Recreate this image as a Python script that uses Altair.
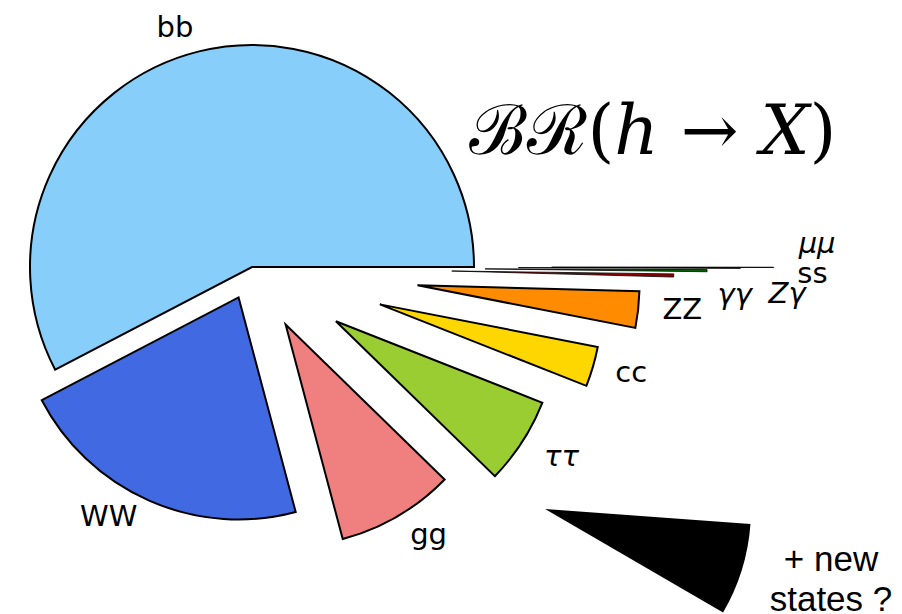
import math
import altair as alt
import pandas as pd

# ---- data ----
channels = ["bb", "WW", "gg", "ττ", "cc", "ZZ", "γγ", "Zγ", "ss", "μμ"]
branching = [0.577, 0.215, 0.0857, 0.0632, 0.0291, 0.0264, 0.00228, 0.00154, 0.00030, 0.00022]
colors = ["#87CEFA", "#4169E1", "#F08080", "#9ACD32", "#FFD700", "#FF8C00",
          "#8B0000", "#006400", "#444444", "#000000"]
italic = [False, False, False, True, False, False, True, True, False, True]

# ---- layout (radius units) ----
explode = [0.0, 0.15, 0.30, 0.45, 0.60, 0.75, 0.90, 1.05, 1.20, 1.35]
label_dist = [1.13, 1.15, 1.145, 1.185, 1.174, 1.198, 1.279, 1.365, 1.325, 1.20]
label_turn = [4.1, -6.8, 3.9, 1.9, 1.0, 1.0, -3.7, -4.2, -1.1, 5.0]

new_label = "+ new\nstates ?"
new_share_deg = 26.0
new_start_deg = -30.2
new_center = (1.32, -1.09)
new_label_pos = (2.608, -1.32)

R = 222
W, H = 886, 606
CX, CY = 244, 259

total = sum(branching)
rows = []
cum = 0.0
for ch, v, col, it, ex, ld, lt in zip(channels, branching, colors, italic, explode, label_dist, label_turn):
    start, end = cum, cum + v
    cum = end
    mid = 2 * math.pi * (start + end) / 2 / total
    cx, cy = ex * math.cos(mid), ex * math.sin(mid)
    la = mid + math.radians(lt)
    rows.append(dict(channel=ch, start=start, end=end, share=v, cx=cx, cy=cy,
                     lx=cx + ld * math.cos(la), ly=cy + ld * math.sin(la), italic=it))
df = pd.DataFrame(rows)

new_df = pd.DataFrame([dict(channel="new", start=new_start_deg / 360 * total,
                            end=(new_start_deg + new_share_deg) / 360 * total,
                            cx=new_center[0], cy=new_center[1],
                            lx=new_label_pos[0], ly=new_label_pos[1], label=new_label)])

xs = alt.Scale(domain=[-CX / R, (W - CX) / R], zero=False, nice=False)
ys = alt.Scale(domain=[-(H - CY) / R, CY / R], zero=False, nice=False)
ts = alt.Scale(domain=[0, total], range=[math.pi / 2, math.pi / 2 - 2 * math.pi])

slices = alt.Chart(df).mark_arc(radius=R, stroke="black").encode(
    x=alt.X("cx:Q", scale=xs, axis=None),
    y=alt.Y("cy:Q", scale=ys, axis=None),
    theta=alt.Theta("start:Q", scale=ts, stack=None),
    theta2="end:Q",
    color=alt.Color("channel:N", scale=alt.Scale(domain=channels, range=colors), legend=None),
    strokeWidth=alt.condition(alt.datum.share < 0.01, alt.value(0.8), alt.value(2)),
    order=alt.Order("start:Q"),
)

new_slice = alt.Chart(new_df).mark_arc(radius=206, color="black").encode(
    x=alt.X("cx:Q", scale=xs, axis=None),
    y=alt.Y("cy:Q", scale=ys, axis=None),
    theta=alt.Theta("start:Q", scale=ts, stack=None),
    theta2="end:Q",
)

def labels(flag):
    return alt.Chart(df).transform_filter(
        alt.datum.italic if flag else ~alt.datum.italic
    ).mark_text(font="DejaVu Sans", fontSize=29, fontStyle="italic" if flag else "normal",
                align="center", baseline="middle", color="black").encode(
        x=alt.X("lx:Q", scale=xs, axis=None),
        y=alt.Y("ly:Q", scale=ys, axis=None),
        text="channel:N",
    )

new_text = alt.Chart(new_df).mark_text(font="Liberation Sans", fontSize=35, align="center",
                                       baseline="middle", lineBreak="\n", lineHeight=40,
                                       color="black").encode(
    x=alt.X("lx:Q", scale=xs, axis=None),
    y=alt.Y("ly:Q", scale=ys, axis=None),
    text="label:N",
)

title = alt.Chart(pd.DataFrame({"t": ["ℬℛ(ℎ → 𝑋)"]})).mark_text(
    font="DejaVu Serif", fontSize=69, align="center", baseline="middle", color="black"
).encode(x=alt.value(645), y=alt.value(125), text="t:N")

chart = alt.layer(slices, new_slice, labels(False), labels(True), new_text, title).properties(
    width=W, height=H, padding=0, autosize="none"
).configure_view(strokeWidth=0)

chart.save("out.html", embed_options={"renderer": "svg", "actions": False})
